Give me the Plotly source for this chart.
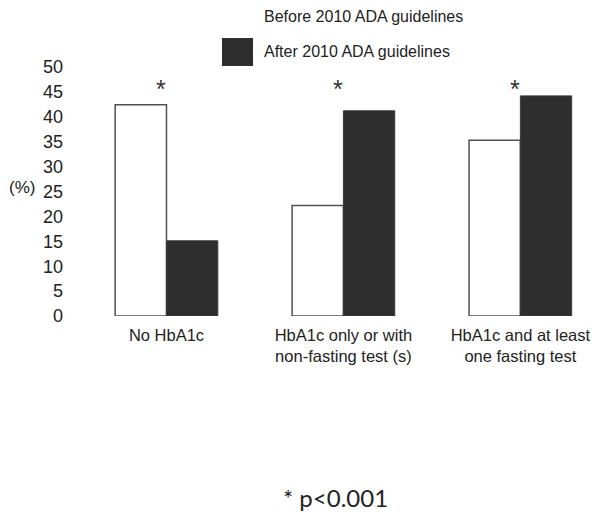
import plotly.graph_objects as go

categories = ["No HbA1c", "HbA1c only or with<br>non-fasting test (s)", "HbA1c and at least<br>one fasting test"]
before_vals = [42.4, 22.2, 35.3]
after_vals = [15.1, 41.2, 44.2]
sig_marks = ["*", "*", "*"]
y_ticks = [0, 5, 10, 15, 20, 25, 30, 35, 40, 45, 50]

# page has an 8px body margin; compensate
OFF = 8
W, H = 600 - OFF, 517 - OFF
PL, PT, PB = 78, 67, 316  # plot area in screen px
PW, PHh = 600 - PL, PB - PT

def fx(sx):
    return (sx - PL) / PW

def fy(sy):
    return (PB - sy) / PHh

fig = go.Figure()
fig.add_trace(go.Bar(x=categories, y=before_vals, name="Before 2010 ADA guidelines",
                     marker=dict(color="white", line=dict(color="#505050", width=1.5))))
fig.add_trace(go.Bar(x=categories, y=after_vals, name="After 2010 ADA guidelines",
                     marker=dict(color="#2e2e2e", line=dict(color="#3a3a3a", width=1))))

for c, s in zip(categories, sig_marks):
    fig.add_annotation(x=c, y=45.6, text=s, showarrow=False, xshift=-5,
                       font=dict(size=25, color="#333", family="Liberation Sans"))

# custom legend
fig.add_annotation(xref="paper", yref="paper", x=fx(262), y=fy(17), xanchor="left", yanchor="middle",
                   text="Before 2010 ADA guidelines", showarrow=False,
                   font=dict(size=16, color="#222", family="Liberation Sans"))
fig.add_shape(type="rect", xref="paper", yref="paper", x0=fx(222), x1=fx(253), y0=fy(66), y1=fy(38),
              fillcolor="#2e2e2e", line=dict(width=0))
fig.add_annotation(xref="paper", yref="paper", x=fx(262), y=fy(51), xanchor="left", yanchor="middle",
                   text="After 2010 ADA guidelines", showarrow=False,
                   font=dict(size=16, color="#222", family="Liberation Sans"))
fig.add_annotation(xref="paper", yref="paper", x=fx(8), y=fy(187), xanchor="left", yanchor="middle",
                   text="(%)", showarrow=False, borderpad=0,
                   font=dict(size=17, color="#222", family="Liberation Sans"))
fig.add_annotation(xref="paper", yref="paper", x=fx(335), y=fy(497), xanchor="center", yanchor="middle",
                   text="* p<0.001", showarrow=False,
                   font=dict(size=24, color="#222", family="Lato"))

fig.update_layout(
    width=W, height=H, plot_bgcolor="white", paper_bgcolor="white",
    barmode="group", bargap=0.42, bargroupgap=0,
    showlegend=False,
    margin=dict(l=PL - OFF, r=0, t=PT - OFF, b=H - (PB - OFF), autoexpand=False),
    xaxis=dict(range=[-0.5, 2.45], showline=False, showgrid=False, ticks="",
               tickfont=dict(size=16.5, color="#222", family="Liberation Sans"), ticklabelstandoff=7),
    yaxis=dict(range=[0, 50], tickvals=y_ticks, showline=False, showgrid=False, zeroline=False, ticks="",
               tickfont=dict(size=18, color="#222", family="Liberation Sans"), ticklabelstandoff=14),
)
fig.write_html("out.html")
